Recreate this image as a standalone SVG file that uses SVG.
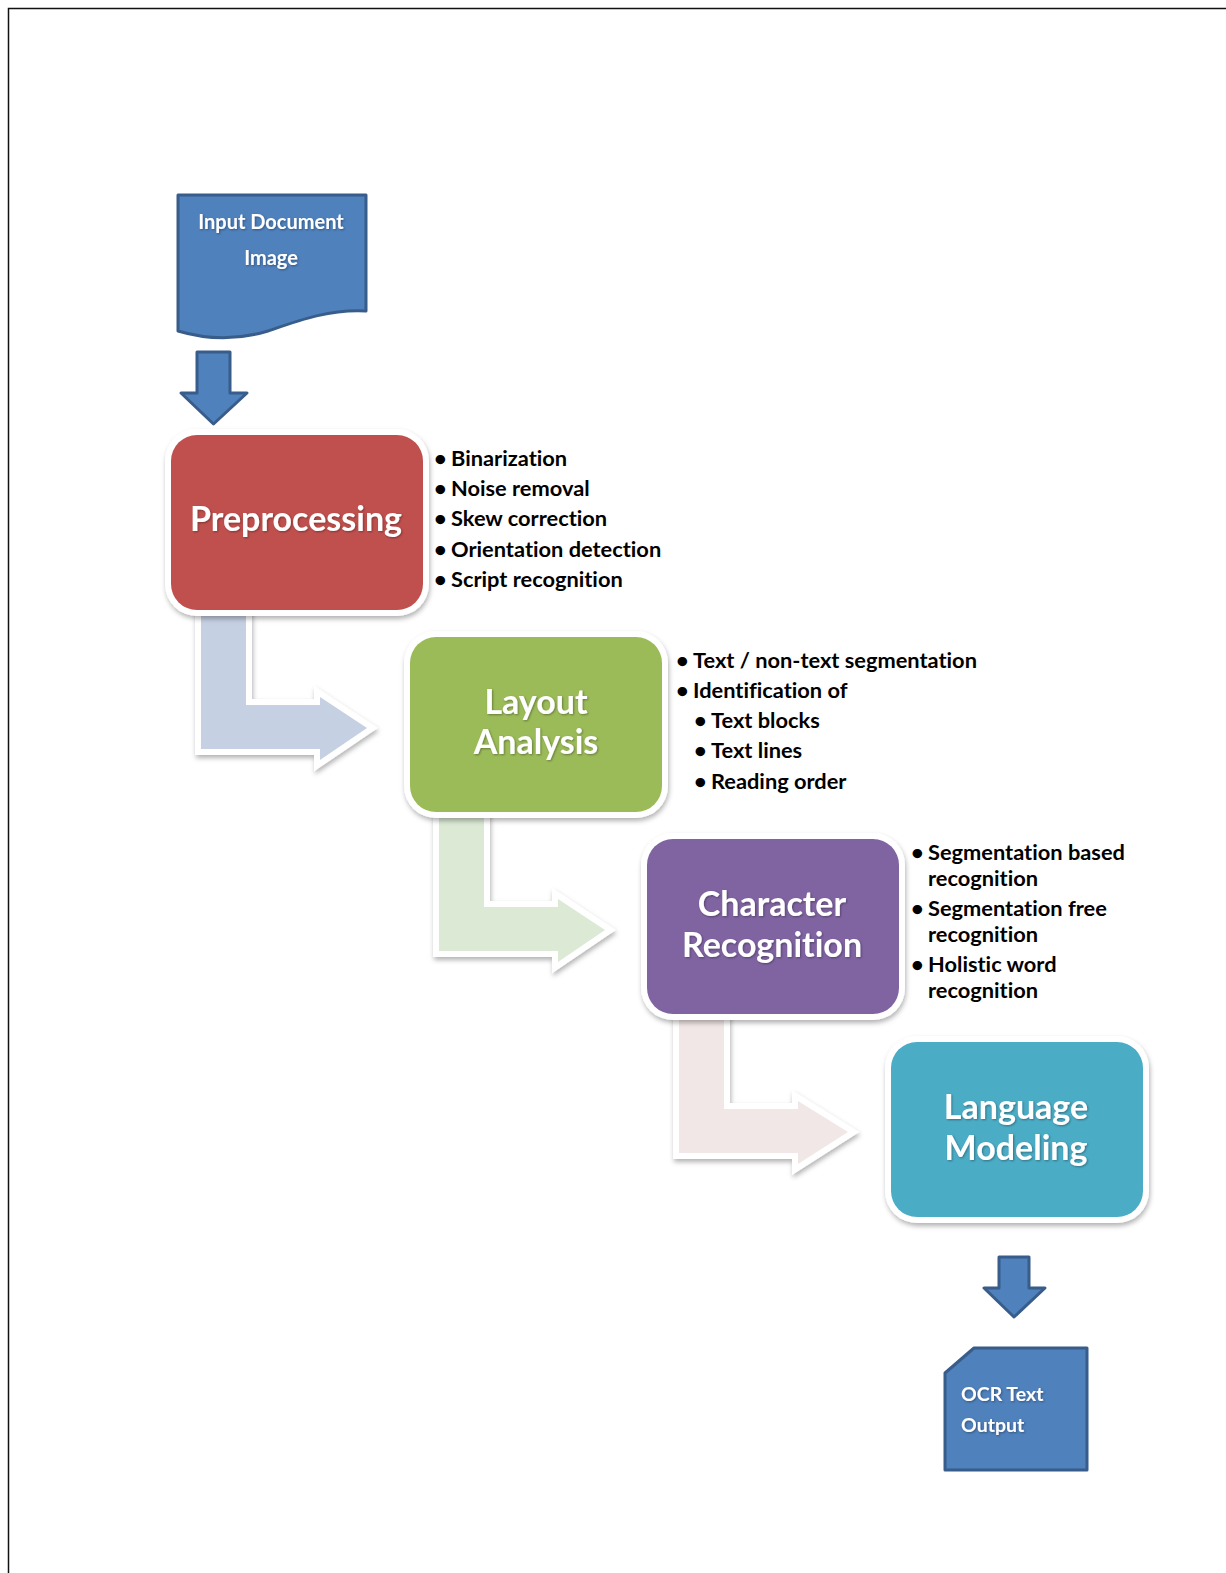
<svg xmlns="http://www.w3.org/2000/svg" width="1226" height="1573" viewBox="0 0 1226 1573">
<style>
.frame{stroke:#111;stroke-width:1.5;fill:none}
.doc{fill:#4f81bd;stroke:#385d8a;stroke-width:3;stroke-linejoin:round}
.plate{fill:#fff;filter:url(#sh)}
text{font-variant-ligatures:none}
.big{font-family:Lato,"Liberation Sans",sans-serif;font-weight:bold;font-size:34px;fill:#fff;text-anchor:middle}
.small{font-family:Lato,"Liberation Sans",sans-serif;font-weight:bold;font-size:20px;fill:#fff}
.bul{font-family:Lato,"Liberation Sans",sans-serif;font-weight:bold;font-size:21.8px;fill:#000}
.conn{stroke:#fff;stroke-width:12;paint-order:stroke;stroke-linejoin:miter;filter:url(#sh)}
</style>
<defs>
<filter id="sh" x="-20%" y="-20%" width="140%" height="140%">
<feDropShadow dx="1" dy="3" stdDeviation="2.5" flood-color="#000" flood-opacity="0.3"/>
</filter>
<filter id="ts" x="-10%" y="-20%" width="120%" height="140%">
<feDropShadow dx="1" dy="1" stdDeviation="0.8" flood-color="#000" flood-opacity="0.35"/>
</filter>
</defs>
<rect width="1226" height="1573" fill="#fff"/>
<path class="frame" d="M8.5,1573 V8.5 H1226"/>

<g id="connectors">
<polygon class="conn" fill="#c5d0e3" points="201,600 246,600 246,705 320,705 320,697 367,728 320,760 320,749 201,749"/>
<polygon class="conn" fill="#dbe9d5" points="439,802 484,802 484,907 558,907 558,899 605,930 558,962 558,951 439,951"/>
<polygon class="conn" fill="#f2e7e7" points="679,1004 724,1004 724,1109 798,1109 798,1101 848,1132 798,1164 798,1153 679,1153"/>
<path class="doc" d="M197,352 H230 V393 H247 L213.5,424 L181,393 H197 Z"/>
<path class="doc" d="M999,1257 H1029 V1288 H1045 L1014,1317 L984,1288 H999 Z"/>
</g>

<g id="input">
<path class="doc" d="M178,195 H366 V311 C330,309 300,320 268,331 C235,341 205,339 178,331 Z"/>
<g filter="url(#ts)">
<text class="small" x="271" y="229" text-anchor="middle">Input Document</text>
<text class="small" x="271" y="265" text-anchor="middle">Image</text>
</g>
</g>

<g id="preprocessing">
<rect class="plate" x="165" y="429" width="264" height="187" rx="32"/>
<rect x="171" y="435" width="252" height="175" rx="26" fill="#c0504d"/>
<text class="big" x="296" y="531" filter="url(#ts)">Preprocessing</text>
<g class="bul">
<text x="434" y="466">•</text><text x="451" y="466">Binarization</text>
<text x="434" y="496">•</text><text x="451" y="496">Noise removal</text>
<text x="434" y="526">•</text><text x="451" y="526">Skew correction</text>
<text x="434" y="557">•</text><text x="451" y="557">Orientation detection</text>
<text x="434" y="587">•</text><text x="451" y="587">Script recognition</text>
</g>
</g>

<g id="layout">
<rect class="plate" x="404" y="631" width="264" height="187" rx="32"/>
<rect x="410" y="637" width="252" height="175" rx="26" fill="#9bbb59"/>
<g filter="url(#ts)">
<text class="big" x="536" y="714">Layout</text>
<text class="big" x="536" y="754">Analysis</text>
</g>
<g class="bul">
<text x="676" y="668">•</text><text x="693" y="668">Text / non-text segmentation</text>
<text x="676" y="698">•</text><text x="693" y="698">Identification of</text>
<text x="694" y="728">•</text><text x="711" y="728">Text blocks</text>
<text x="694" y="758">•</text><text x="711" y="758">Text lines</text>
<text x="694" y="789">•</text><text x="711" y="789">Reading order</text>
</g>
</g>

<g id="character">
<rect class="plate" x="641" y="833" width="264" height="187" rx="32"/>
<rect x="647" y="839" width="252" height="175" rx="26" fill="#8064a2"/>
<g filter="url(#ts)">
<text class="big" x="772" y="916">Character</text>
<text class="big" x="772" y="957">Recognition</text>
</g>
<g class="bul">
<text x="911" y="860">•</text><text x="928" y="860">Segmentation based</text>
<text x="928" y="886">recognition</text>
<text x="911" y="916">•</text><text x="928" y="916">Segmentation free</text>
<text x="928" y="942">recognition</text>
<text x="911" y="972">•</text><text x="928" y="972">Holistic word</text>
<text x="928" y="998">recognition</text>
</g>
</g>

<g id="language">
<rect class="plate" x="885" y="1036" width="264" height="187" rx="32"/>
<rect x="891" y="1042" width="252" height="175" rx="26" fill="#4bacc6"/>
<g filter="url(#ts)">
<text class="big" x="1016" y="1119">Language</text>
<text class="big" x="1016" y="1160">Modeling</text>
</g>
</g>

<g id="output">
<path class="doc" d="M974,1348 H1087 V1470 H945 V1373 Z"/>
<g filter="url(#ts)">
<text class="small" x="961" y="1401" style="font-size:19.5px">OCR Text</text>
<text class="small" x="961" y="1432" style="font-size:19.5px">Output</text>
</g>
</g>
</svg>
